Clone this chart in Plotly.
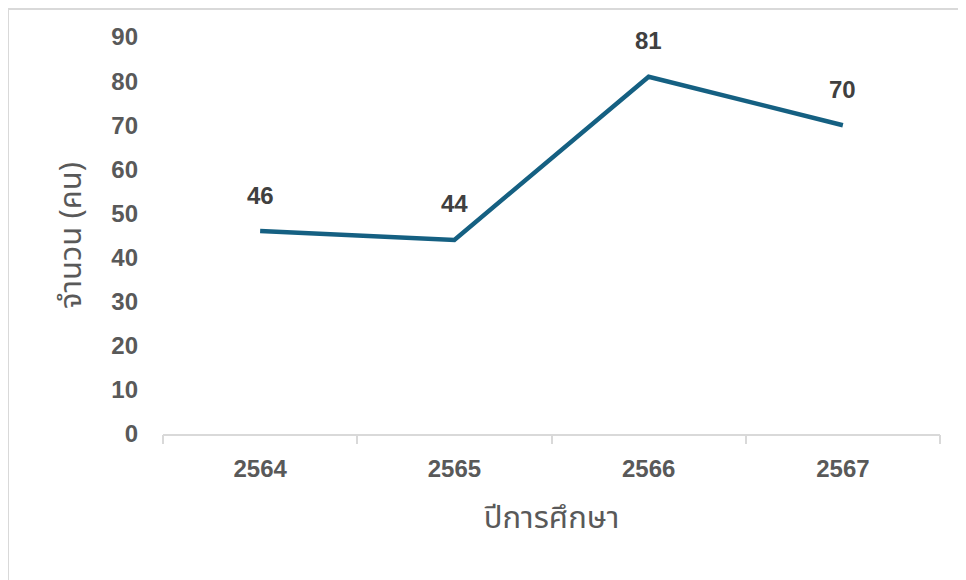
import plotly.graph_objects as go

years = ["2564", "2565", "2566", "2567"]
students = [46, 44, 81, 70]
y_ticks = [0, 10, 20, 30, 40, 50, 60, 70, 80, 90]

x_title = "ปีการศึกษา"
y_title = "จำนวน (คน)"

LINE_COLOR = "#156082"
TEXT_COLOR = "#595959"
LABEL_COLOR = "#404040"
AXIS_COLOR = "#d9d9d9"
FONT = "Liberation Sans, Arial, sans-serif"
THAI_FONT = "Noto Sans Thai, Tahoma, Noto Sans, DejaVu Sans, sans-serif"

fig = go.Figure()
fig.add_trace(go.Scatter(
    x=list(range(len(years))), y=students, mode="lines",
    line=dict(color=LINE_COLOR, width=4.5),
    hoverinfo="skip", showlegend=False,
))

for i, yv in enumerate(students):
    fig.add_annotation(
        x=i, y=yv, xref="x", yref="y", text=f"<b>{yv}</b>", showarrow=False,
        yshift=36, font=dict(family=FONT, size=24, color=LABEL_COLOR),
    )

# chart border (decorative)
fig.add_shape(type="rect", xref="paper", yref="paper",
              x0=-0.1995, x1=1.5, y0=-0.5, y1=1.0705,
              line=dict(color=AXIS_COLOR, width=2), layer="below")

fig.update_layout(
    width=958, height=572,
    margin=dict(l=155, r=26, t=29, b=146),
    paper_bgcolor="white", plot_bgcolor="white",
    xaxis=dict(
        range=[-0.5, len(years) - 0.5],
        tickvals=[i for i in range(len(years))],
        ticktext=[f"<b>{y}</b>" for y in years],
        showgrid=False, zeroline=False,
        showline=True, linecolor=AXIS_COLOR, linewidth=2,
        ticks="",
        tickfont=dict(family=FONT, size=24, color=TEXT_COLOR),
        ticklabelstandoff=12,
        title=dict(text=x_title, standoff=26,
                   font=dict(family=THAI_FONT, size=31, color=TEXT_COLOR)),
        fixedrange=True,
    ),
    xaxis2=dict(
        overlaying="x", matches="x", anchor="y",
        range=[-0.5, len(years) - 0.5],
        tickvals=[i - 0.5 for i in range(len(years) + 1)],
        ticktext=["" for _ in range(len(years) + 1)],
        showgrid=False, zeroline=False, showline=False,
        ticks="outside", ticklen=9, tickcolor=AXIS_COLOR, tickwidth=2,
        side="bottom", fixedrange=True,
    ),
    yaxis=dict(
        range=[0, 90], tickvals=y_ticks,
        ticktext=[f"<b>{v}</b>" for v in y_ticks],
        showgrid=False, zeroline=False, showline=False, ticks="",
        tickfont=dict(family=FONT, size=24, color=TEXT_COLOR),
        ticklabelstandoff=24,
        title=dict(text=y_title, standoff=20,
                   font=dict(family=THAI_FONT, size=31, color=TEXT_COLOR)),
        fixedrange=True,
    ),
)

# invisible trace to activate the boundary-tick axis
fig.add_trace(go.Scatter(x=[None], y=[None], xaxis="x2", yaxis="y",
                         showlegend=False, hoverinfo="skip"))

fig.write_html("out.html", config={"displayModeBar": False})
